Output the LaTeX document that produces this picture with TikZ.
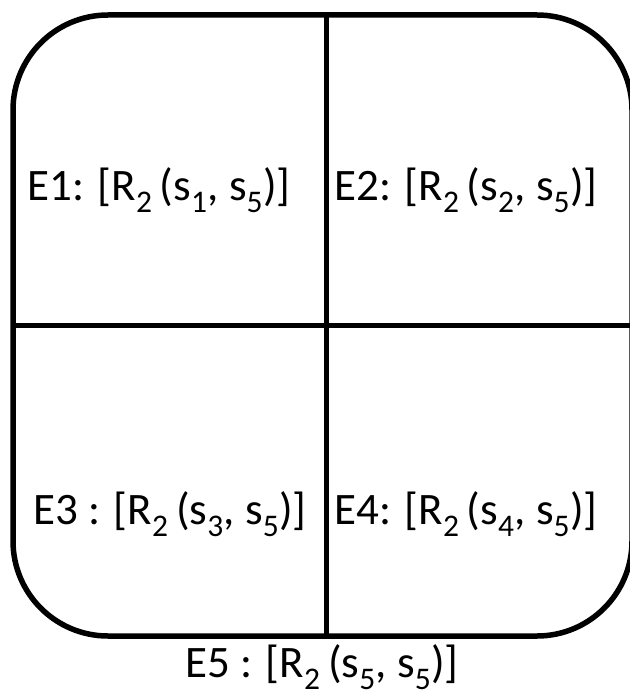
\documentclass[tikz,border=0pt]{standalone}
\usepackage{fontspec}
\setmainfont{Carlito}
\usetikzlibrary{positioning}

\newcommand{\sub}[1]{\textsubscript{#1}}

\begin{document}
\begin{tikzpicture}[
  x=1pt, y=-1pt,
  font=\fontsize{45}{50}\selectfont,
  frame/.style={draw=black, line width=5.5pt, rounded corners=95pt},
  divider/.style={draw=black, line width=5pt},
  cell/.style={inner sep=0pt, anchor=center},
  ]
  \useasboundingbox (0,0) rectangle (629,700);
  % outer box and the two dividers
  \draw[frame] (13,15) rectangle (632,636);
  \coordinate (vtop) at (326,15);
  \coordinate (vbot) at (326,636);
  \coordinate (hleft) at (13,325);
  \coordinate (hright) at (632,325);
  \draw[divider] (vtop) -- (vbot);
  \draw[divider] (hleft) -- (hright);
  % cell labels
  \node[cell] (e1) at (159,190) {E1: [R\sub{2}\,(s\sub{1}, s\sub{5})]};
  \node[cell] (e2) at (466,190) {E2: [R\sub{2}\,(s\sub{2}, s\sub{5})]};
  \node[cell] (e3) at (170,514) {E3 : [R\sub{2}\,(s\sub{3}, s\sub{5})]};
  \node[cell] (e4) at (466,514) {E4: [R\sub{2}\,(s\sub{4}, s\sub{5})]};
  \node[cell] (e5) at (322,667) {E5 : [R\sub{2}\,(s\sub{5}, s\sub{5})]};
\end{tikzpicture}
\end{document}
